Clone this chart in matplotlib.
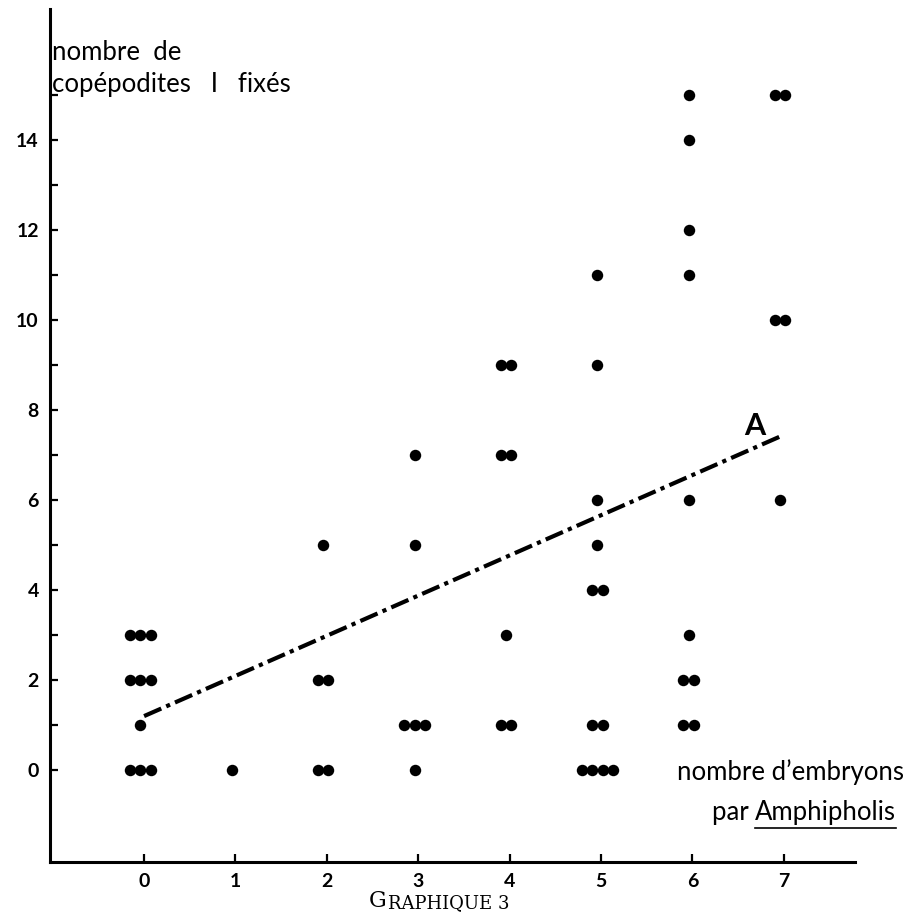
import numpy as np
import matplotlib.pyplot as plt
from matplotlib.lines import Line2D

# nombre d'embryons, nombre de copepodites I fixes, nombre d'individus
embryons = [0, 0, 0, 0, 1, 2, 2, 2, 3, 3, 3, 3, 4, 4, 4, 4,
            5, 5, 5, 5, 5, 5, 5, 6, 6, 6, 6, 6, 6, 6, 6, 7, 7, 7]
copepodites = [3, 2, 1, 0, 0, 5, 2, 0, 7, 5, 1, 0, 9, 7, 3, 1,
               11, 9, 6, 5, 4, 1, 0, 15, 14, 12, 11, 6, 3, 2, 1, 15, 10, 6]
effectif = [3, 3, 1, 3, 1, 1, 2, 2, 1, 1, 3, 1, 2, 2, 1, 2,
            1, 1, 1, 1, 2, 2, 4, 1, 1, 1, 1, 1, 1, 2, 2, 2, 2, 1]

# droite A
droite_x = [0, 6.95]
droite_y = [1.2, 7.4]

x_ticks = list(range(0, 8))
y_ticks = list(range(0, 15, 2))
y_minor = list(range(1, 16, 2))

FONT = 'Lato'

fig = plt.figure(figsize=(9.07, 9.17), dpi=100)
ax = fig.add_axes([0.0551, 0.060, 0.8876, 0.930])

# points: repeated individuals drawn side by side
spacing = 0.115
px, py = [], []
for x, y, n in zip(embryons, copepodites, effectif):
    for i in range(n):
        px.append(x - 0.04 + (i - (n - 1) / 2) * spacing)
        py.append(y)
ax.scatter(px, py, s=68, color='black', zorder=3, linewidths=0)

ax.plot(droite_x, droite_y, color='black', lw=3,
        linestyle=(0, (4.5, 1.3, 1, 1.3)), solid_capstyle='butt')
ax.text(6.57, 7.44, 'A', fontsize=22, fontweight='bold', family=FONT,
        ha='left', va='baseline')

ax.set_xlim(-1.03, 7.78)
ax.set_ylim(-2.04, 16.9)
ax.set_xticks(x_ticks)
ax.set_yticks(y_ticks)
ax.set_yticks(y_minor, minor=True)
ax.set_xticklabels([str(v) for v in x_ticks], fontsize=14, fontweight='bold', family=FONT)
ax.set_yticklabels([str(v) for v in y_ticks], fontsize=14, fontweight='bold', family=FONT)
ax.tick_params(axis='both', which='major', direction='in', length=6, width=1.6, pad=8)
ax.tick_params(axis='y', which='minor', direction='in', length=6, width=1.6)

for side in ['top', 'right']:
    ax.spines[side].set_visible(False)
for side in ['left', 'bottom']:
    ax.spines[side].set_linewidth(2.2)

# axis titles
lab = dict(fontsize=18.5, family=FONT)
ax.text(-1.005, 15.78, 'nombre  de', ha='left', va='baseline', **lab)
ax.text(-1.005, 15.07, 'copépodites   I   fixés', ha='left', va='baseline', **lab)
ax.text(8.32, -0.22, 'nombre d\u2019embryons', ha='right', va='baseline', **lab)
t_amph = ax.text(8.23, -1.11, 'Amphipholis', ha='right', va='baseline', **lab)
ax.annotate('par ', xy=(0, 0), xycoords=t_amph, xytext=(0, 0), textcoords='offset points',
            ha='right', va='bottom', **lab)

# caption in small caps
t_g = fig.text(0.407, 0.011, 'G', fontsize=16, family='DejaVu Serif', va='baseline')
ax.annotate('RAPHIQUE 3', xy=(1, 0), xycoords=t_g, xytext=(0.5, 0), textcoords='offset points',
            fontsize=13, family='DejaVu Serif', ha='left', va='bottom',
            annotation_clip=False)

# underline of Amphipholis
fig.canvas.draw()
bb = t_amph.get_window_extent().transformed(fig.transFigure.inverted())
uy = 1 - 828 / 917
fig.add_artist(Line2D([bb.x0, bb.x1], [uy, uy], transform=fig.transFigure,
                      color='black', lw=1.2))

fig.savefig('out.png', dpi=100)
